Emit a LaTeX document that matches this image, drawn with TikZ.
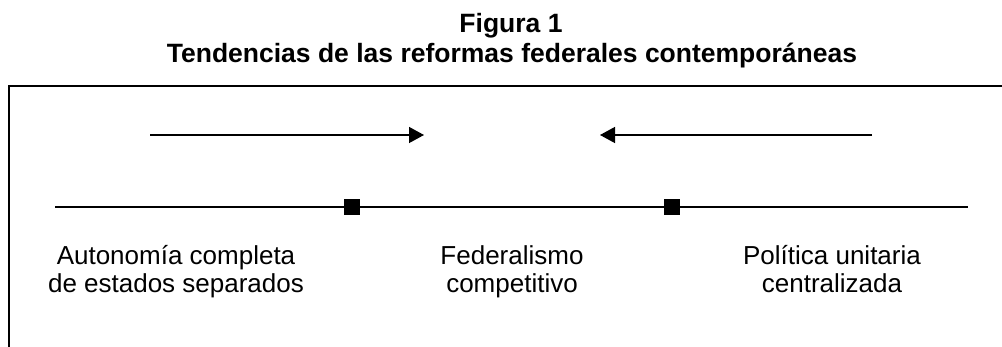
\documentclass[tikz,border=0pt]{standalone}
\usepackage{fontspec}
\setmainfont{Liberation Sans}
\usepackage{tikz}
\usetikzlibrary{positioning}
\usetikzlibrary{arrows.meta}
\tikzset{%
  tend/.style = {-{Triangle[length=15pt,width=16pt]},line width=1.4pt},
  axis/.style = {line width=1.4pt},
  frame/.style = {line width=2.6pt},
  sq/.style = {rectangle,fill=black,inner sep=0pt,
        minimum width=16pt,minimum height=16pt},
  lab/.style = {align=center,inner sep=0pt,anchor=base,
        font=\fontsize{26}{28}\selectfont},
  ttl/.style = {align=center,inner sep=0pt,anchor=base,
        font=\fontsize{26.5}{30}\selectfont\bfseries}
}
\begin{document}
\begin{tikzpicture}[x=1pt,y=-1pt]
    \useasboundingbox (0,0) rectangle (1002,347);
    \node[ttl] (fig) at (511,33) {Figura 1};
    \node[ttl] (tit) at (512,63) {Tendencias de las reformas federales contempor\'aneas};
    \draw[frame] (9,360) -- (9,86) -- (1015,86);
    \coordinate (l1) at (150,135);
    \coordinate (l2) at (424,135);
    \coordinate (r1) at (872,135);
    \coordinate (r2) at (600,135);
    \draw[tend] (l1) -- (l2);
    \draw[tend] (r1) -- (r2);
    \coordinate (a) at (55,207);
    \coordinate (b) at (968,207);
    \draw[axis] (a) -- (b);
    \node[sq] (q1) at (352,207) {};
    \node[sq] (q2) at (672,207) {};
    \node[lab] (aut) at (176,293) {Autonom\'ia completa\\de estados separados};
    \node[lab] (fed) at (512,293) {Federalismo\\competitivo};
    \node[lab] (pol) at (832,293) {Pol\'itica unitaria\\centralizada};
\end{tikzpicture}
\end{document}
